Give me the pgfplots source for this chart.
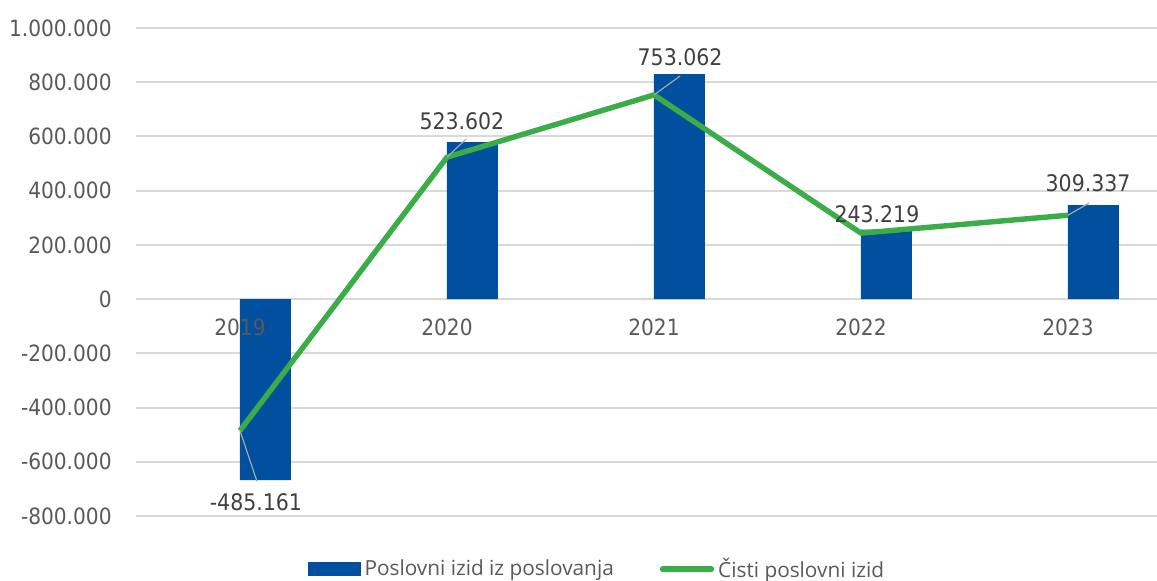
\documentclass[border=0pt]{standalone}
\usepackage{fontspec}
\setmainfont{DejaVu Sans Condensed}
\newfontfamily\legendfont{Open Sans}
\usepackage{pgfplots}
\pgfplotsset{compat=1.18}

\definecolor{barblue}{RGB}{0,80,159}
\definecolor{linegreen}{RGB}{58,172,72}
\definecolor{gridgray}{RGB}{217,217,217}
\definecolor{ticktext}{RGB}{89,89,89}
\definecolor{labeltext}{RGB}{64,64,64}
\definecolor{leader}{RGB}{166,166,166}

\begin{document}
\begin{tikzpicture}
\begin{axis}[
  scale only axis,
  width=510.25pt, height=244pt,
  xmin=-0.5, xmax=4.43,
  ymin=-800000, ymax=1000000,
  ytick={-800000,-600000,-400000,-200000,0,200000,400000,600000,800000,1000000},
  xtick=\empty,
  scaled y ticks=false,
  /pgf/number format/fixed,
  /pgf/number format/1000 sep={.},
  /pgf/number format/assume math mode=true,
  yticklabel style={font=\fontsize{11.2}{13}\selectfont, text=ticktext, anchor=east, inner sep=0pt, xshift=-12.25pt},
  major tick length=0pt,
  axis line style={draw=none},
  ymajorgrids=true,
  grid style={line width=1pt, gridgray},
  clip=false,
  legend style={draw=none, fill=none, at={(0.452,-0.109)}, anchor=center,
    font=\legendfont\fontsize{10.4}{12}\selectfont, text=ticktext,
    /tikz/every even column/.append style={column sep=21pt}},
  legend columns=2,
]
\addplot[ybar, bar width=0.246, bar shift=0.123, fill=barblue, draw=none,
  legend image code/.code={\fill[barblue] (0pt,-3.5pt) rectangle (26.5pt,3.5pt);}]
  coordinates {(0,-668000) (1,579000) (2,830000) (3,256000) (4,347000)};
\addlegendentry{Poslovni izid iz poslovanja}
\addplot[sharp plot, mark=none, linegreen, line width=2.7pt, line join=round,
  legend image code/.code={\draw[linegreen, line width=2.7pt, line cap=round] (0pt,0pt) -- (24.5pt,0pt);}]
  coordinates {(0,-485161) (1,523602) (2,753062) (3,243219) (4,309337)};
\addlegendentry{Čisti poslovni izid}

% leader lines
\draw[leader, line width=0.6pt] (axis cs:0,-485161) -- (axis cs:0.082,-672000);
\draw[leader, line width=0.6pt] (axis cs:1,523602) -- (axis cs:1.092,590000);
\draw[leader, line width=0.6pt] (axis cs:2,753062) -- (axis cs:2.126,823000);
\draw[leader, line width=0.6pt] (axis cs:4,309337) -- (axis cs:4.101,354000);

% data labels
\begin{scope}[every node/.style={font=\fontsize{11.4}{13}\selectfont, text=labeltext, inner sep=0pt, anchor=center}]
\node at (axis cs:0.077,-749000) {-485.161};
\node at (axis cs:1.072,657000) {523.602};
\node at (axis cs:2.126,893000) {753.062};
\node at (axis cs:3.077,314000) {243.219};
\node at (axis cs:4.097,428000) {309.337};
\end{scope}

% category labels
\begin{scope}[every node/.style={font=\fontsize{11.2}{13}\selectfont, text=ticktext, inner sep=0pt, anchor=center}]
\node at (axis cs:0,-103000) {2019};
\node at (axis cs:1,-103000) {2020};
\node at (axis cs:2,-103000) {2021};
\node at (axis cs:3,-103000) {2022};
\node at (axis cs:4,-103000) {2023};
\end{scope}
\end{axis}
\pgfresetboundingbox
\path[use as bounding box] (-68.25pt,-32.5pt) rectangle (510.25pt,258pt);
\end{tikzpicture}
\end{document}
